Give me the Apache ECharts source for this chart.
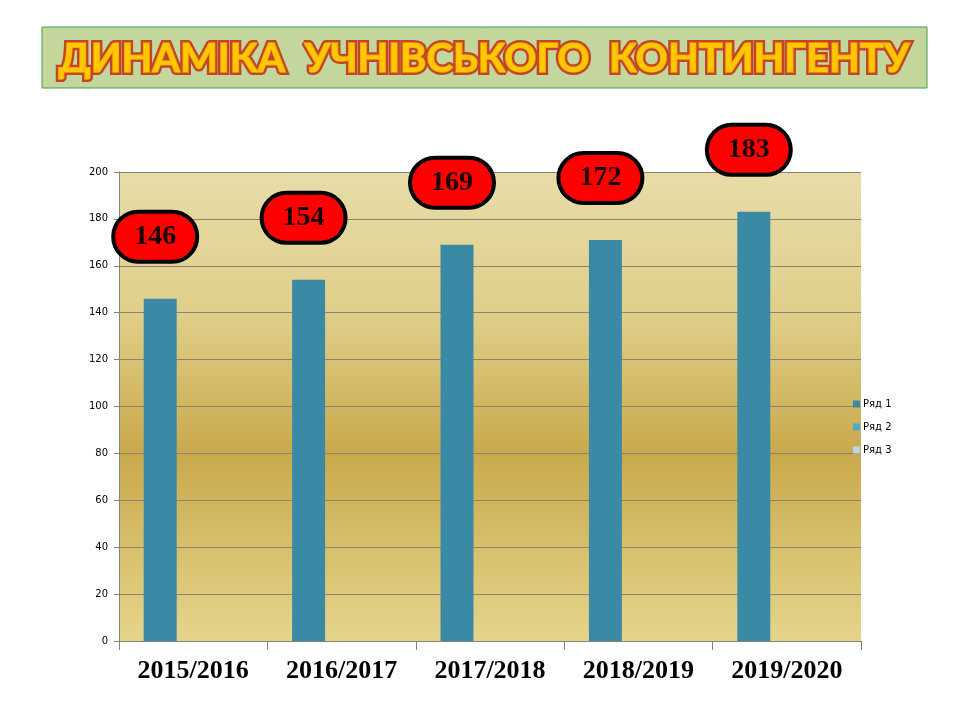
<!DOCTYPE html>
<html>
<head>
<meta charset="utf-8">
<title>Динаміка учнівського контингенту</title>
<script src="https://cdn.jsdelivr.net/npm/echarts@6/dist/echarts.min.js"></script>
<style>
  html, body { margin: 0; padding: 0; background: #fff; }
  #chart { width: 960px; height: 720px; }
</style>
</head>
<body>
<div id="chart"></div>
<script>
// дані з діаграми
const years = ['2015/2016', '2016/2017', '2017/2018', '2018/2019', '2019/2020']
const row1 = [146, 154, 169, 171, 183]
const labels1 = [146, 154, 169, 172, 183] // підписи на слайді (172 над стовпцем ~171)
const seriesNames = ['Ряд 1', 'Ряд 2', 'Ряд 3']
const seriesColors = ['#3A8AA5', '#4BACC6', '#BCD5E6']

const myChart = echarts.init(document.getElementById('chart'))

const option = {
  backgroundColor: '#fff',
  animation: false,
  // заголовок у зеленій рамці
  graphic: [
    {
      type: 'rect',
      shape: { x: 42, y: 27, width: 885, height: 61 },
      style: { fill: '#C3D69B', stroke: '#3E9E50', lineWidth: 1 }
    },
    {
      type: 'text',
      x: 484,
      y: 59,
      style: {
        text: 'ДИНАМІКА  УЧНІВСЬКОГО  КОНТИНГЕНТУ',
        font: 'bold 40px Lato, "Open Sans", sans-serif',
        align: 'center',
        verticalAlign: 'middle',
        fill: '#FFB400',
        stroke: '#C0452A',
        lineWidth: 6,
        strokeFirst: true,
        shadowColor: 'rgba(80,60,40,0.5)',
        shadowBlur: 3,
        shadowOffsetX: 2,
        shadowOffsetY: 3
      }
    },
    {
      // світліша середина літер
      type: 'text',
      x: 484,
      y: 59,
      style: {
        text: 'ДИНАМІКА  УЧНІВСЬКОГО  КОНТИНГЕНТУ',
        font: 'bold 40px Lato, "Open Sans", sans-serif',
        align: 'center',
        verticalAlign: 'middle',
        fill: '#FFC800',
        stroke: '#FF9A00',
        lineWidth: 1.5
      }
    }
  ],
  legend: {
    orient: 'vertical',
    left: 848,
    top: 394,
    itemWidth: 7,
    itemHeight: 7,
    itemGap: 13,
    icon: 'rect',
    data: seriesNames,
    textStyle: { fontSize: 10, color: '#000', fontFamily: 'DejaVu Sans, sans-serif', padding: [0, 0, 0, -2] }
  },
  grid: {
    left: 119,
    right: 99,
    top: 172,
    bottom: 79,
    show: true,
    borderWidth: 0,
    backgroundColor: new echarts.graphic.LinearGradient(0, 0, 0, 1, [
      { offset: 0, color: '#E7DCA9' },
      { offset: 0.3, color: '#E0CF8A' },
      { offset: 0.6, color: '#C9A94C' },
      { offset: 1, color: '#E5D58C' }
    ])
  },
  xAxis: {
    type: 'category',
    data: years,
    axisLine: { lineStyle: { color: '#86847A' } },
    axisTick: { show: true, interval: 0, length: 9, lineStyle: { color: '#86847A' } },
    axisLabel: {
      interval: 0,
      margin: 17,
      color: '#000',
      fontSize: 26,
      fontWeight: 'bold',
      fontFamily: '"Liberation Serif", "Times New Roman", serif'
    }
  },
  yAxis: {
    type: 'value',
    min: 0,
    max: 200,
    interval: 20,
    axisLine: { show: true, lineStyle: { color: '#86847A' } },
    axisTick: { show: true, length: 5, lineStyle: { color: '#86847A' } },
    splitLine: { lineStyle: { color: '#8A8570', width: 1 } },
    axisLabel: { margin: 11, color: '#000', fontSize: 10, fontFamily: 'DejaVu Sans, sans-serif' }
  },
  series: [
    {
      name: seriesNames[0],
      type: 'bar',
      barWidth: 33,
      barGap: '0%',
      itemStyle: { color: seriesColors[0] },
      data: row1,
      label: {
        show: true,
        position: 'top',
        distance: 62, // центр бульбашки над вершиною стовпця
        offset: [-5, 0],
        formatter: (p) => String(labels1[p.dataIndex]),
        color: '#1a0000',
        fontSize: 28,
        fontWeight: 'bold',
        fontFamily: '"Liberation Serif", "Times New Roman", serif',
        backgroundColor: '#FF0000',
        borderColor: '#000',
        borderWidth: 4,
        borderRadius: 25,
        width: 80,
        height: 46,
        lineHeight: 50,
        align: 'center',
        verticalAlign: 'middle'
      }
    },
    {
      name: seriesNames[1],
      type: 'bar',
      barWidth: 33,
      itemStyle: { color: seriesColors[1] },
      data: []
    },
    {
      name: seriesNames[2],
      type: 'bar',
      barWidth: 33,
      itemStyle: { color: seriesColors[2] },
      data: []
    }
  ]
}

myChart.setOption(option)
</script>
</body>
</html>
